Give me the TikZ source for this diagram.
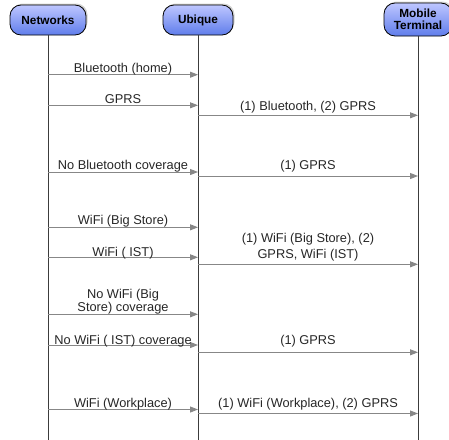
\documentclass[tikz,border=0pt]{standalone}
\usepackage{fontspec}
\setmainfont{Liberation Sans}
\usetikzlibrary{arrows.meta,shadows}
\definecolor{haut}{RGB}{95,125,235}
\definecolor{bas}{RGB}{190,198,255}
\definecolor{fleche}{RGB}{135,135,135}
\definecolor{vie}{RGB}{60,60,60}

\begin{document}
\begin{tikzpicture}[x=1pt,y=-1pt,
  % y inverse : le degrade est donc inverse aussi
  acteur/.style={draw=black,thick,rounded corners=11pt,top color=bas,bottom color=haut,
    drop shadow={shadow xshift=1.5pt,shadow yshift=1.5pt,opacity=0.35},
    font=\fontsize{11.8}{13.5}\selectfont\bfseries,align=center,inner sep=1pt},
  msg/.style={fleche,line width=1pt,-{Triangle[length=8pt,width=6pt]}},
  lbl/.style={text=black!85,font=\fontsize{12.8}{13}\selectfont,inner sep=0pt,anchor=base,align=center}]
  \clip (0,0) rectangle (449,439);
  % acteurs
  \node[acteur,minimum width=76pt,minimum height=30pt] (net) at (48,20) {Networks};
  \node[acteur,minimum width=70pt,minimum height=30pt] (ubi) at (198,20) {Ubique};
  \node[acteur,minimum width=68pt,minimum height=33pt] (mt) at (418,19.5) {Mobile\\[-2pt]Terminal};
  % lignes de vie
  \draw[vie,line width=1pt] (net.south) -- (net.south |- 0,440);
  \draw[vie,line width=1pt] (ubi.south) -- (ubi.south |- 0,440);
  \draw[vie,line width=1pt] (mt.south) -- (mt.south |- 0,440);
  % messages
  \draw[msg] (net |- 0,74.7) -- node[lbl,yshift=2pt] {Bluetooth (home)} (ubi |- 0,74.7);
  \draw[msg] (net |- 0,105.3) -- node[lbl,yshift=1.5pt] {GPRS} (ubi |- 0,105.3);
  \draw[msg] (ubi |- 0,115.3) -- node[lbl,yshift=5pt] {(1) Bluetooth, (2) GPRS} (mt |- 0,115.3);
  \draw[msg] (net |- 0,172) -- node[lbl,yshift=3pt] {No Bluetooth coverage} (ubi |- 0,172);
  \draw[msg] (ubi |- 0,176) -- node[lbl,yshift=7pt] {(1) GPRS} (mt |- 0,176);
  \draw[msg] (net |- 0,227.3) -- node[lbl,yshift=3pt] {WiFi (Big Store)} (ubi |- 0,227.3);
  \draw[msg] (net |- 0,257.3) -- node[lbl,yshift=1.3pt] {WiFi ( IST)} (ubi |- 0,257.3);
  \draw[msg] (ubi |- 0,264.3) -- node[lbl,yshift=3pt,anchor=south] {(1) WiFi (Big Store), (2)\\[3pt]GPRS, WiFi (IST)} (mt |- 0,264.3);
  \draw[msg] (net |- 0,314.3) -- node[lbl,yshift=-0.5pt,anchor=south] {No WiFi (Big\\Store) coverage} (ubi |- 0,314.3);
  \draw[msg] (net |- 0,345) -- node[lbl,yshift=1pt] {No WiFi ( IST) coverage} (ubi |- 0,345);
  \draw[msg] (ubi |- 0,352.3) -- node[lbl,yshift=8pt] {(1) GPRS} (mt |- 0,352.3);
  \draw[msg] (net |- 0,409.5) -- node[lbl,yshift=2pt] {WiFi (Workplace)} (ubi |- 0,409.5);
  \draw[msg] (ubi |- 0,413.5) -- node[lbl,yshift=6pt] {(1) WiFi (Workplace), (2) GPRS} (mt |- 0,413.5);
\end{tikzpicture}
\end{document}
